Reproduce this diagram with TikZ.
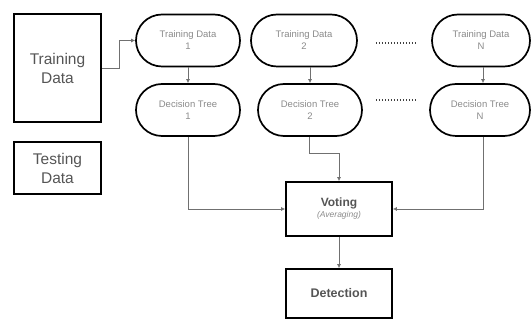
\documentclass[tikz,border=0pt]{standalone}
\usepackage{fontspec}
\setmainfont{Liberation Sans}
\usetikzlibrary{shapes.misc,arrows.meta,calc}
\definecolor{txtdark}{HTML}{555555}
\definecolor{txtlight}{HTML}{8A8A8A}
\definecolor{linegray}{HTML}{707070}
\begin{document}
\begin{tikzpicture}[x=1pt,y=-1pt,
  bigbox/.style={draw=black,line width=1.7pt,rectangle,inner sep=0pt,align=center,text=txtdark,
     font=\fontsize{15.5}{19}\selectfont},
  stad/.style={draw=black,line width=1.7pt,rounded rectangle,inner sep=0pt,align=center,
     minimum height=52pt,text=txtlight,font=\fontsize{9.5}{12}\selectfont},
  midbox/.style={draw=black,line width=1.7pt,rectangle,inner sep=0pt,align=center,text=txtdark,
     minimum width=106pt},
  conn/.style={draw=linegray,line width=0.7pt,-{Latex[length=4pt,width=4pt]}},
  dots/.style={draw=black!75,line width=1.2pt,dash pattern=on 1.6pt off 1.4pt}]
\useasboundingbox (0,0) rectangle (531,320);
\node[bigbox,minimum width=87pt,minimum height=108pt] (trn) at (57.5,68) {Training\\Data};
\node[bigbox,minimum width=87pt,minimum height=52pt] (tst) at (57.5,168) {Testing\\Data};
\node[stad,minimum width=104pt] (td1) at (188,40.5) {Training Data\\1};
\node[stad,minimum width=104pt] (dt1) at (188,110) {Decision Tree\\1};
\node[stad,minimum width=106pt] (td2) at (304,40.5) {Training Data\\2};
\node[stad,minimum width=104pt] (dt2) at (310,110) {Decision Tree\\2};
\node[stad,minimum width=98pt] (tdn) at (481,40.5) {Training Data\\N};
\node[stad,minimum width=100pt] (dtn) at (480,110) {Decision Tree\\N};
\node[midbox,minimum height=54pt] (vot) at (339,209) {\fontsize{12}{13}\selectfont\bfseries Voting\\[-1pt]\fontsize{8.5}{10}\selectfont\itshape\color{txtlight}(Averaging)};
\node[midbox,minimum height=49pt,font=\fontsize{12.5}{14}\selectfont\bfseries] (det) at (339,293.5) {Detection};
% connectors
\draw[conn] (trn.east) -- ++(17,0) |- (td1.west);
\draw[conn] (td1.south) -- (dt1.north);
\draw[conn] (td2.south -| dt2.south) -- (dt2.north);
\draw[conn] (tdn.south -| 483,0) -- (dtn.north -| 483,0);
\draw[conn] (dt1.south) |- (vot.west);
\draw[conn] (dt2.south -| 309,0) -- (309,153) -| (vot.north);
\draw[conn] (dtn.south -| 483,0) |- (vot.east);
\draw[conn] (vot.south) -- (det.north);
% dotted gaps
\draw[dots] ($(td2.east)+(18,2.5)$) -- ($(tdn.west)+(-14,2.5)$);
\draw[dots] ($(dt2.east)+(13,-10)$) -- ($(dtn.west)+(-12,-10)$);
\end{tikzpicture}
\end{document}
